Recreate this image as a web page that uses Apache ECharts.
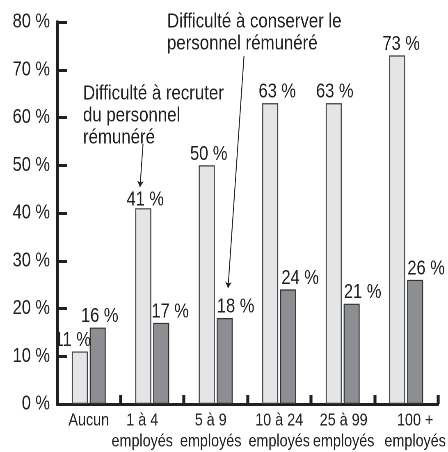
<!DOCTYPE html>
<html>
<head>
<meta charset="utf-8">
<script src="https://cdn.jsdelivr.net/npm/echarts@6/dist/echarts.min.js"></script>
<style>
    html, body { margin: 0; padding: 0; background: #fff; overflow: hidden; }
    /* 没有窄体字，用横向压缩模拟 */
    #chart { width: 546px; height: 452px; transform: scaleX(0.8205); transform-origin: 0 0; }
</style>
</head>
<body>
<div id="chart"></div>
<script>
// 数据
const categories = ['Aucun', '1 à 4\nemployés', '5 à 9\nemployés', '10 à 24\nemployés', '25 à 99\nemployés', '100 +\nemployés'];
const recruterValues = [11, 41, 50, 63, 63, 73];
const conserverValues = [16, 17, 18, 24, 21, 26];
const yTicks = [0, 10, 20, 30, 40, 50, 60, 70, 80];

const FONT = "'Liberation Sans', Arial, sans-serif";
const INK = '#231f20';
const S = 0.8205; // 横向压缩比例

// 屏幕像素 -> 图表内部像素
function px(x) {
    return x / S;
}

// 标签的微调（屏幕像素）
const catLabelShift = [0, -10, -5, 0, 1, 9];
const recruterLabelOffset = [[-7, 0], [2, 3], [2, 0], [7, 0], [1, 0], [4, 0]];
const conserverLabelOffset = [[2, 0], [9, 0], [11, 0], [12, 0], [11, 0], [11, 0]];

document.addEventListener('DOMContentLoaded', function () {
    initChart();
});

function initChart() {
    const chartDom = document.getElementById('chart');
    const myChart = echarts.init(chartDom, null, { renderer: 'canvas', devicePixelRatio: 2 });

    const xData = categories.map(function (c, i) {
        const s = px(catLabelShift[i]) * 2;
        return {
            value: c,
            textStyle: { padding: s < 0 ? [0, -s, 0, 0] : [0, 0, 0, s] }
        };
    });

    function withLabelOffset(values, offsets) {
        return values.map(function (v, i) {
            return { value: v, label: { offset: [px(offsets[i][0]), offsets[i][1]] } };
        });
    }

    const barLabel = {
        show: true,
        position: 'top',
        distance: 1,
        fontFamily: FONT,
        fontSize: 20,
        color: INK,
        formatter: '{c} %'
    };

    const option = {
        backgroundColor: '#fff',
        animation: false,
        grid: {
            top: 22,
            left: px(57),
            right: px(6),
            bottom: 46
        },
        xAxis: {
            type: 'category',
            data: xData,
            axisLine: {
                show: true,
                lineStyle: { color: INK, width: 3 }
            },
            axisTick: {
                show: true,
                inside: true,
                length: 9,
                lineStyle: { color: INK, width: 3.6 }
            },
            axisLabel: {
                color: INK,
                fontFamily: FONT,
                fontSize: 17.5,
                lineHeight: 21,
                margin: 6,
                interval: 0
            }
        },
        yAxis: {
            type: 'value',
            min: yTicks[0],
            max: yTicks[yTicks.length - 1],
            interval: 10,
            axisLine: {
                show: true,
                lineStyle: { color: INK, width: 3.6 }
            },
            axisTick: {
                show: true,
                inside: true,
                length: px(10),
                lineStyle: { color: INK, width: 3 }
            },
            splitLine: { show: false },
            axisLabel: {
                color: INK,
                fontFamily: FONT,
                fontSize: 20,
                margin: px(7),
                formatter: '{value} %'
            }
        },
        series: [
            {
                name: 'Difficulté à recruter du personnel rémunéré',
                type: 'bar',
                barWidth: px(16),
                barGap: '12%',
                data: withLabelOffset(recruterValues, recruterLabelOffset),
                itemStyle: {
                    color: '#e4e5e7',
                    borderColor: '#3d3d3d',
                    borderWidth: 1.2
                },
                label: barLabel
            },
            {
                name: 'Difficulté à conserver le personnel rémunéré',
                type: 'bar',
                barWidth: px(16),
                data: withLabelOffset(conserverValues, conserverLabelOffset),
                itemStyle: {
                    color: '#8d8e91',
                    borderColor: '#333',
                    borderWidth: 1.2
                },
                label: barLabel,
                markLine: {
                    silent: true,
                    symbol: ['none', 'arrow'],
                    symbolSize: 6,
                    label: { show: false },
                    lineStyle: { color: INK, width: 1.1, type: 'solid' },
                    data: [
                        [{ x: px(143), y: 144 }, { x: px(140), y: 187 }],
                        [{ x: px(244), y: 56 }, { x: px(228), y: 288 }]
                    ]
                }
            }
        ],
        graphic: [
            {
                type: 'text',
                left: px(83),
                top: 83,
                style: {
                    text: 'Difficulté à recruter\ndu personnel\nrémunéré',
                    font: '20.5px ' + FONT,
                    lineHeight: 22,
                    fill: INK
                }
            },
            {
                type: 'text',
                left: px(167),
                top: 11,
                style: {
                    text: 'Difficulté à conserver le\npersonnel rémunéré',
                    font: '20.5px ' + FONT,
                    lineHeight: 22,
                    fill: INK
                }
            }
        ]
    };

    myChart.setOption(option);

    window.addEventListener('resize', function () {
        myChart.resize();
    });
}
</script>
</body>
</html>
